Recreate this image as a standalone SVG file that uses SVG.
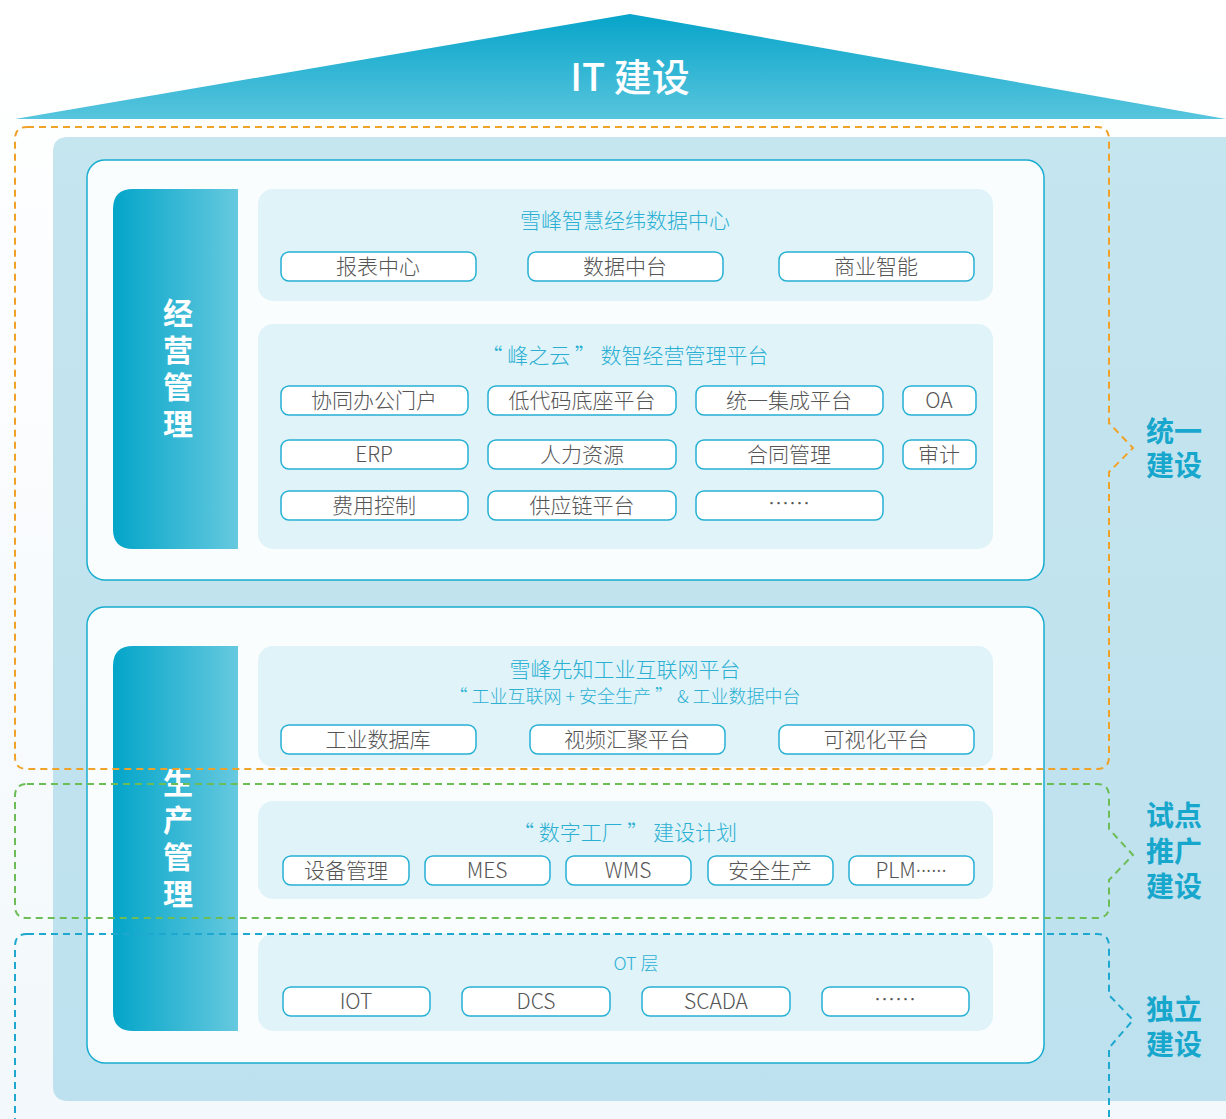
<svg xmlns="http://www.w3.org/2000/svg" width="1226" height="1119" viewBox="0 0 1226 1119">
<defs>
<linearGradient id="bg" x1="0" y1="0" x2="0" y2="1"><stop offset="0" stop-color="#ffffff"/><stop offset="1" stop-color="#f2f8fb"/></linearGradient>
<linearGradient id="roof" x1="0" y1="0" x2="0" y2="1"><stop offset="0" stop-color="#07a4ca"/><stop offset="1" stop-color="#58c5dd"/></linearGradient>
<linearGradient id="bar" x1="0" y1="0" x2="1" y2="0"><stop offset="0" stop-color="#03a5c9"/><stop offset="1" stop-color="#66c9df"/></linearGradient>
<linearGradient id="panel" x1="0" y1="0" x2="0" y2="1"><stop offset="0" stop-color="#c5e5ef"/><stop offset="1" stop-color="#bde1ee"/></linearGradient>
<style>
.card{fill:#fafdfe;stroke:#18acd0;stroke-width:1.5}
.inner{fill:#e0f3f8}
.btn{fill:#ffffff;stroke:#26b0d3;stroke-width:1.5}
.bt{font-family:"Noto Sans CJK SC","Noto Sans",sans-serif;font-size:21px;fill:#555;text-anchor:middle;font-weight:300}
.tt{font-family:"Noto Sans CJK SC","Noto Sans",sans-serif;font-size:21px;fill:#2bb0d3;text-anchor:middle;font-weight:300}
.lat{font-family:"Noto Sans",sans-serif}
.bar{font-family:"Noto Sans CJK SC","Noto Sans",sans-serif;font-size:30px;fill:#fff;font-weight:700;writing-mode:vertical-rl;letter-spacing:7px}
.side{font-family:"Noto Sans CJK SC","Noto Sans",sans-serif;font-size:28px;fill:#17a6cc;font-weight:700}
.dash{fill:none;stroke-width:2;stroke-dasharray:7 5}
</style>
</defs>
<rect width="1226" height="1119" fill="url(#bg)"/>
<g id="roof">
<polygon points="15,119 630,14 1226,119" fill="url(#roof)"/>
<text x="630" y="91" font-family="'Noto Sans CJK SC',sans-serif" font-size="38" font-weight="500" fill="#fff" text-anchor="middle">IT 建设</text>
</g>
<path id="base" d="M68 137 H1226 V1101 H68 Q53 1101 53 1086 V152 Q53 137 68 137 Z" fill="url(#panel)"/>

<g id="card-jingying">
<rect class="card" x="87" y="160" width="957" height="420" rx="18"/>
<path d="M133 189 H238 V549 H133 Q113 549 113 529 V209 Q113 189 133 189 Z" fill="url(#bar)"/>
<text class="bar" x="178" y="298">经营管理</text>
</g>
<g id="panel-datacenter">
<rect class="inner" x="258" y="189" width="735" height="112" rx="15"/>
<text class="tt" x="625" y="228">雪峰智慧经纬数据中心</text>
<rect class="btn" x="281" y="252" width="195" height="29" rx="8"/><text class="bt" x="378" y="274">报表中心</text>
<rect class="btn" x="528" y="252" width="195" height="29" rx="8"/><text class="bt" x="625" y="274">数据中台</text>
<rect class="btn" x="779" y="252" width="195" height="29" rx="8"/><text class="bt" x="876" y="274">商业智能</text>
</g>
<g id="panel-fengzhiyun">
<rect class="inner" x="258" y="324" width="735" height="225" rx="15"/>
<text class="tt" x="625" y="363">“ 峰之云 ” 数智经营管理平台</text>
<rect class="btn" x="281" y="386" width="187" height="29" rx="8"/><text class="bt" x="374" y="408">协同办公门户</text>
<rect class="btn" x="488" y="386" width="188" height="29" rx="8"/><text class="bt" x="582" y="408">低代码底座平台</text>
<rect class="btn" x="696" y="386" width="187" height="29" rx="8"/><text class="bt" x="789" y="408">统一集成平台</text>
<rect class="btn" x="903" y="386" width="73" height="29" rx="8"/><text class="bt" x="939" y="408">OA</text>
<rect class="btn" x="281" y="440" width="187" height="29" rx="8"/><text class="bt" x="374" y="462">ERP</text>
<rect class="btn" x="488" y="440" width="188" height="29" rx="8"/><text class="bt" x="582" y="462">人力资源</text>
<rect class="btn" x="696" y="440" width="187" height="29" rx="8"/><text class="bt" x="789" y="462">合同管理</text>
<rect class="btn" x="903" y="440" width="73" height="29" rx="8"/><text class="bt" x="939" y="462">审计</text>
<rect class="btn" x="281" y="491" width="187" height="29" rx="8"/><text class="bt" x="374" y="513">费用控制</text>
<rect class="btn" x="488" y="491" width="188" height="29" rx="8"/><text class="bt" x="582" y="513">供应链平台</text>
<rect class="btn" x="696" y="491" width="187" height="29" rx="8"/><text class="bt" x="789" y="511">……</text>
</g>

<g id="card-shengchan">
<rect class="card" x="87" y="607" width="957" height="456" rx="18"/>
<path d="M133 646 H238 V1031 H133 Q113 1031 113 1011 V666 Q113 646 133 646 Z" fill="url(#bar)"/>
<text class="bar" x="178" y="768">生产管理</text>
</g>
<g id="panel-iiot">
<rect class="inner" x="258" y="646" width="735" height="121" rx="15"/>
<text class="tt" x="625" y="677">雪峰先知工业互联网平台</text>
<text class="tt" x="625" y="703" style="font-size:18px">“ 工业互联网 + 安全生产 ” &amp; 工业数据中台</text>
<rect class="btn" x="281" y="725" width="195" height="29" rx="8"/><text class="bt" x="378" y="747">工业数据库</text>
<rect class="btn" x="530" y="725" width="195" height="29" rx="8"/><text class="bt" x="627" y="747">视频汇聚平台</text>
<rect class="btn" x="779" y="725" width="195" height="29" rx="8"/><text class="bt" x="876" y="747">可视化平台</text>
</g>
<g id="panel-factory">
<rect class="inner" x="258" y="801" width="735" height="98" rx="15"/>
<text class="tt" x="625" y="840">“ 数字工厂 ” 建设计划</text>
<rect class="btn" x="283" y="856" width="126" height="29" rx="8"/><text class="bt" x="346" y="878">设备管理</text>
<rect class="btn" x="425" y="856" width="125" height="29" rx="8"/><text class="bt" x="487" y="878">MES</text>
<rect class="btn" x="566" y="856" width="125" height="29" rx="8"/><text class="bt" x="628" y="878">WMS</text>
<rect class="btn" x="708" y="856" width="125" height="29" rx="8"/><text class="bt" x="770" y="878">安全生产</text>
<rect class="btn" x="849" y="856" width="125" height="29" rx="8"/><text class="bt" x="911" y="878">PLM<tspan class="lat">······</tspan></text>
</g>
<g id="panel-ot">
<rect class="inner" x="258" y="934" width="735" height="97" rx="15"/>
<text class="tt" x="636" y="970" style="font-size:18px">OT 层</text>
<rect class="btn" x="283" y="987" width="147" height="29" rx="8"/><text class="bt" x="356" y="1009">IOT</text>
<rect class="btn" x="462" y="987" width="148" height="29" rx="8"/><text class="bt" x="536" y="1009">DCS</text>
<rect class="btn" x="642" y="987" width="148" height="29" rx="8"/><text class="bt" x="716" y="1009">SCADA</text>
<rect class="btn" x="822" y="987" width="147" height="29" rx="8"/><text class="bt" x="895" y="1007">……</text>
</g>

<g id="connectors">
<path class="dash" stroke="#f0a128" d="M27 127 H1097 Q1109 127 1109 139 V423 L1133 448 L1109 472 V757 Q1109 769 1097 769 H27 Q15 769 15 757 V139 Q15 127 27 127 Z"/>
<path class="dash" stroke="#6dbd56" d="M27 784 H1097 Q1109 784 1109 796 V829 L1133 855 L1109 880 V906 Q1109 918 1097 918 H27 Q15 918 15 906 V796 Q15 784 27 784 Z"/>
<path class="dash" stroke="#1ea8cf" d="M27 934 H1097 Q1109 934 1109 946 V995 L1133 1020 L1109 1048 V1125 M15 1125 V946 Q15 934 27 934"/>
</g>
<g id="labels">
<text class="side"><tspan x="1146" y="442">统一</tspan><tspan x="1146" y="476">建设</tspan></text>
<text class="side"><tspan x="1146" y="826">试点</tspan><tspan x="1146" y="862">推广</tspan><tspan x="1146" y="897">建设</tspan></text>
<text class="side"><tspan x="1146" y="1020">独立</tspan><tspan x="1146" y="1055">建设</tspan></text>
</g>
</svg>
